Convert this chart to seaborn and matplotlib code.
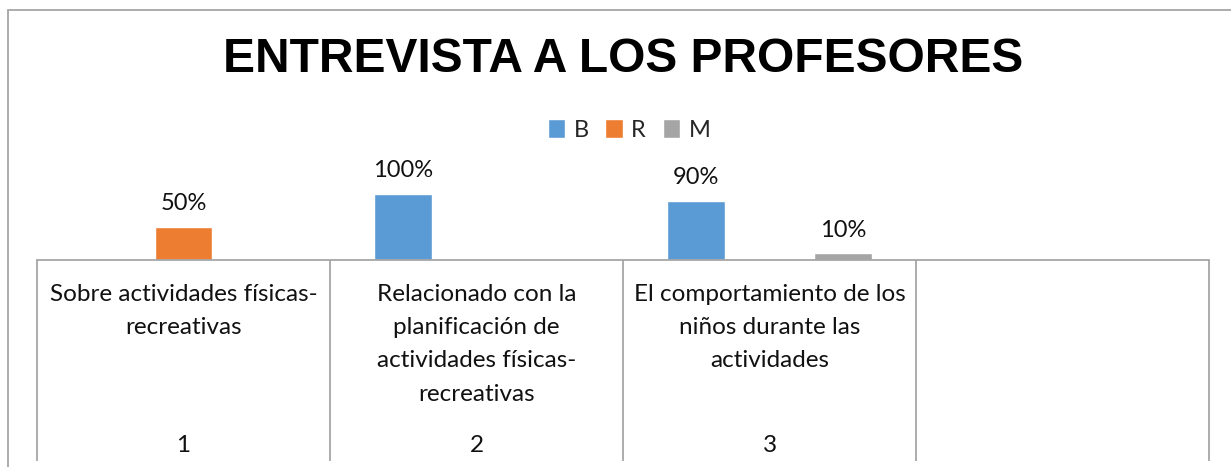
import numpy as np
import pandas as pd
import matplotlib
matplotlib.use("Agg")
import matplotlib.pyplot as plt
import seaborn as sns
from matplotlib.patches import Rectangle
from matplotlib.transforms import blended_transform_factory

# ---- data ----
categories = ["Sobre actividades físicas-\nrecreativas",
              "Relacionado con la\nplanificación de\nactividades físicas-\nrecreativas",
              "El comportamiento de los\nniños durante las\nactividades",
              ""]
cat_numbers = ["1", "2", "3", ""]
series = ["B", "R", "M"]
B = [np.nan, 100, 90, np.nan]
R = [50, np.nan, np.nan, np.nan]
M = [np.nan, np.nan, 10, np.nan]
colors = ["#5B9BD5", "#ED7D31", "#A5A5A5"]
title = "ENTREVISTA A LOS PROFESORES"

cat_ids = ["c1", "c2", "c3", "c4"]
rows = []
for s, vals in zip(series, [B, R, M]):
    for c, v in zip(cat_ids, vals):
        rows.append({"cat": c, "serie": s, "val": v})
df = pd.DataFrame(rows).dropna()

sns.set_theme(style="white")
plt.rcParams["font.family"] = ["Lato", "DejaVu Sans"]

W, H = 1231, 467
fig = plt.figure(figsize=(W / 100, H / 100), dpi=100)
fig.patch.set_facecolor("white")

# outer chart frame (left/top visible)
fig.patches.append(Rectangle((8 / W, -0.1), 1.2, 1 - 10 / H + 0.1, transform=fig.transFigure,
                             fill=False, edgecolor="#A6A6A6", linewidth=1.3, zorder=0))

ax_h_px = 99
ax = fig.add_axes([37 / W, (H - 260) / H, (1209 - 37) / W, ax_h_px / H])
sns.barplot(data=df, x="cat", y="val", hue="serie", order=cat_ids, hue_order=series,
            palette=colors, width=0.75, gap=0.21, ax=ax, legend=True, saturation=1,
            errorbar=None)
ax.set_ylim(0, 150)
ax.set_xlim(-0.5, 3.5)

for cont in ax.containers:
    labs = [f"{b.get_height():.0f}%" if np.isfinite(b.get_height()) and b.get_height() > 0 else "" for b in cont]
    ax.bar_label(cont, labels=labs, padding=9, fontsize=17, color="#111111")

for sp in ["top", "right", "left"]:
    ax.spines[sp].set_visible(False)
ax.spines["bottom"].set_color("#A6A6A6")
ax.spines["bottom"].set_linewidth(1.3)
ax.set_yticks([])
ax.set_xlabel("")
ax.set_ylabel("")
ax.set_xticks([])

# category table lines
trans = blended_transform_factory(ax.transData, ax.transAxes)
drop = -(461 - 260) / ax_h_px
ax.vlines([-0.5, 0.5, 1.5, 2.5, 3.5], drop, 0, transform=trans, colors="#A6A6A6",
          linewidth=1.3, clip_on=False)

# category labels
for i, (name, num) in enumerate(zip(categories, cat_numbers)):
    ax.text(i, -(284 - 260) / ax_h_px, name, transform=trans, ha="center", va="top",
            fontsize=17.5, linespacing=1.72, color="#111111")
    ax.text(i, -(445 - 260) / ax_h_px, num, transform=trans, ha="center", va="center",
            fontsize=17.5, color="#111111")

# legend
handles, labels = ax.get_legend_handles_labels()
ax.legend(handles, labels, loc="center", bbox_to_anchor=(629 / W, 1 - 130 / H),
          bbox_transform=fig.transFigure, ncol=3, frameon=False, fontsize=17,
          handlelength=0.75, handleheight=0.85, handletextpad=0.35, columnspacing=0.7)

fig.text(623 / W, 1 - 59 / H, title, ha="center", va="center", fontsize=34.5,
         fontweight="bold", family="Liberation Sans", color="black")

fig.savefig("out.png", dpi=100)
